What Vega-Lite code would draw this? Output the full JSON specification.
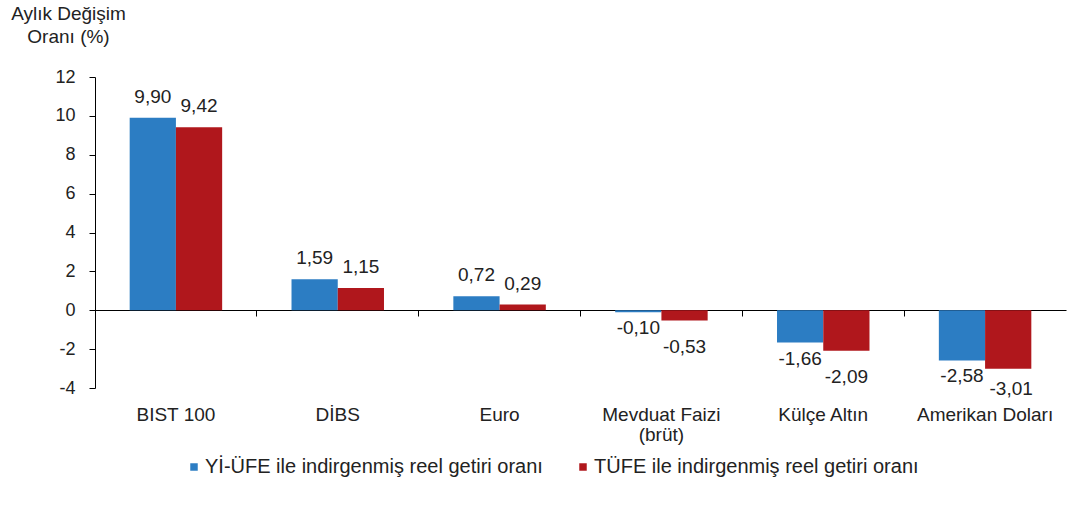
{
  "$schema": "https://vega.github.io/schema/vega-lite/v6.json",
  "width": 971,
  "height": 311,
  "autosize": {"type": "none"},
  "padding": {"left": 95, "top": 77, "right": 7, "bottom": 126},
  "background": "white",
  "config": {
    "view": {"stroke": null},
    "font": "Liberation Sans",
    "locale": {"number": {"decimal": ",", "thousands": ".", "grouping": [3], "currency": ["", " TL"], "minus": "-"}}
  },
  "data": {
    "values": [
      {"kategori": "BIST 100", "seri": "Yİ-ÜFE ile indirgenmiş reel getiri oranı", "deger": 9.90},
      {"kategori": "BIST 100", "seri": "TÜFE ile indirgenmiş reel getiri oranı", "deger": 9.42},
      {"kategori": "DİBS", "seri": "Yİ-ÜFE ile indirgenmiş reel getiri oranı", "deger": 1.59},
      {"kategori": "DİBS", "seri": "TÜFE ile indirgenmiş reel getiri oranı", "deger": 1.15},
      {"kategori": "Euro", "seri": "Yİ-ÜFE ile indirgenmiş reel getiri oranı", "deger": 0.72},
      {"kategori": "Euro", "seri": "TÜFE ile indirgenmiş reel getiri oranı", "deger": 0.29},
      {"kategori": "Mevduat Faizi (brüt)", "seri": "Yİ-ÜFE ile indirgenmiş reel getiri oranı", "deger": -0.10},
      {"kategori": "Mevduat Faizi (brüt)", "seri": "TÜFE ile indirgenmiş reel getiri oranı", "deger": -0.53},
      {"kategori": "Külçe Altın", "seri": "Yİ-ÜFE ile indirgenmiş reel getiri oranı", "deger": -1.66},
      {"kategori": "Külçe Altın", "seri": "TÜFE ile indirgenmiş reel getiri oranı", "deger": -2.09},
      {"kategori": "Amerikan Doları", "seri": "Yİ-ÜFE ile indirgenmiş reel getiri oranı", "deger": -2.58},
      {"kategori": "Amerikan Doları", "seri": "TÜFE ile indirgenmiş reel getiri oranı", "deger": -3.01}
    ]
  },
  "resolve": {"axis": {"x": "independent"}},
  "encoding": {
    "xOffset": {
      "field": "seri", "type": "nominal", "sort": null,
      "scale": {"paddingOuter": 0.75, "paddingInner": 0}
    },
    "y": {
      "field": "deger", "type": "quantitative",
      "scale": {"domain": [-4, 12], "nice": false, "zero": false},
      "axis": {
        "values": [-4, -2, 0, 2, 4, 6, 8, 10, 12], "tickCount": 9, "grid": false, "labelOverlap": false,
        "domainColor": "#000", "tickColor": "#000", "tickSize": 6,
        "labelFontSize": 18, "labelColor": "#222", "labelPadding": 14,
        "title": ["Aylık Değişim", "Oranı (%)"], "titleAngle": 0, "titleAlign": "center",
        "titleBaseline": "top", "titleX": -27, "titleY": -73, "titleFontSize": 19,
        "titleFontWeight": "normal", "titleColor": "#222", "titleLineHeight": 23
      }
    }
  },
  "layer": [
    {
      "mark": {"type": "bar"},
      "encoding": {
        "x": {
          "field": "kategori", "type": "nominal", "sort": null,
          "scale": {"paddingInner": 0, "paddingOuter": 0},
          "axis": {
            "orient": "bottom",
            "title": null, "domain": false, "ticks": false, "labelAngle": 0,
            "labelFontSize": 19, "labelColor": "#222", "labelPadding": 17, "labelLineHeight": 20,
            "labelExpr": "datum.label == 'Mevduat Faizi (brüt)' ? ['Mevduat Faizi', '(brüt)'] : datum.label"
          }
        },
        "color": {
          "field": "seri", "type": "nominal", "sort": null,
          "scale": {
            "domain": ["Yİ-ÜFE ile indirgenmiş reel getiri oranı", "TÜFE ile indirgenmiş reel getiri oranı"],
            "range": ["#2C7DC3", "#B0171C"]
          },
          "legend": {
            "title": null, "orient": "none", "direction": "horizontal",
            "legendX": 89, "legendY": 380,
            "symbolType": "square", "symbolSize": 56, "symbolStrokeWidth": 0,
            "labelFontSize": 20, "labelColor": "#222", "labelLimit": 0,
            "columnPadding": 30, "labelOffset": 1
          }
        }
      }
    },
    {
      "transform": [{"filter": "datum.deger > 0"}],
      "mark": {"type": "text", "baseline": "alphabetic", "dy": -15, "fontSize": 19, "color": "#222"},
      "encoding": {
        "x": {
          "field": "kategori", "type": "nominal", "sort": null,
          "axis": {
            "orient": "bottom",
            "title": null, "labels": false, "bandPosition": 0, "offset": -78,
            "domainColor": "#000", "tickColor": "#000", "tickSize": 6, "domainWidth": 1.2
          }
        },
        "text": {"field": "deger", "type": "quantitative", "format": ".2f"}
      }
    },
    {
      "transform": [{"filter": "datum.deger < 0 && datum.seri == 'Yİ-ÜFE ile indirgenmiş reel getiri oranı'"}],
      "mark": {"type": "text", "baseline": "top", "dy": 7, "fontSize": 19, "color": "#222"},
      "encoding": {
        "x": {"field": "kategori", "type": "nominal", "sort": null, "axis": null},
        "text": {"field": "deger", "type": "quantitative", "format": ".2f"}
      }
    },
    {
      "transform": [{"filter": "datum.deger < 0 && datum.seri == 'TÜFE ile indirgenmiş reel getiri oranı' && datum.kategori != 'Amerikan Doları'"}],
      "mark": {"type": "text", "baseline": "top", "dy": 17, "fontSize": 19, "color": "#222"},
      "encoding": {
        "x": {"field": "kategori", "type": "nominal", "sort": null, "axis": null},
        "text": {"field": "deger", "type": "quantitative", "format": ".2f"}
      }
    },
    {
      "transform": [{"filter": "datum.seri == 'TÜFE ile indirgenmiş reel getiri oranı' && datum.kategori == 'Amerikan Doları'"}],
      "mark": {"type": "text", "baseline": "top", "dy": 11, "dx": 3, "fontSize": 19, "color": "#222"},
      "encoding": {
        "x": {"field": "kategori", "type": "nominal", "sort": null, "axis": null},
        "text": {"field": "deger", "type": "quantitative", "format": ".2f"}
      }
    }
  ]
}
